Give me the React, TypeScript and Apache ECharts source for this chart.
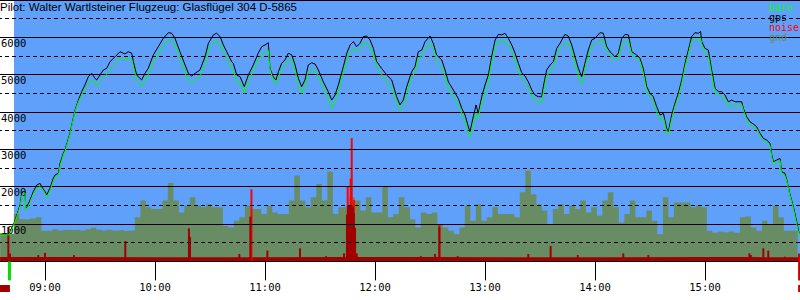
import React, { useEffect, useRef } from "react";
import * as echarts from "echarts";

// ---- data (times are minutes after midnight) ----
const flightTimes = [
  515.5, 520.4, 521.5, 522.7, 524.6, 526.4, 527.3, 528.2, 529.1, 529.5,
  530.0, 531.8, 533.6, 535.5, 537.3, 538.2, 540.0, 540.9, 542.7, 544.5,
  545.5, 547.3, 548.2, 550.0, 550.9, 553.6, 556.4, 558.2, 560.0, 561.8,
  563.6, 565.5, 567.3, 568.2, 570.0, 571.8, 573.6, 575.5, 578.2, 580.9,
  583.6, 585.4, 587.3, 588.2, 590.0, 592.7, 594.5, 596.3, 599.1, 601.8,
  604.5, 607.3, 609.1, 610.9, 613.6, 616.4, 618.2, 620.0, 621.8, 624.5,
  627.3, 629.1, 631.8, 633.6, 635.5, 637.3, 639.1, 641.8, 642.7, 644.6,
  646.4, 648.7, 650.9, 653.6, 656.3, 658.2, 660.0, 661.8, 662.7, 664.5,
  666.0, 667.3, 669.1, 670.9, 672.7, 674.6, 676.4, 678.2, 680.0, 681.8,
  683.6, 685.5, 687.3, 689.1, 691.8, 694.5, 696.4, 698.2, 700.0, 702.7,
  704.6, 706.4, 708.2, 710.0, 711.8, 713.6, 715.5, 717.3, 719.1, 720.9,
  723.6, 726.4, 729.1, 731.8, 733.6, 735.4, 737.3, 740.0, 741.8, 743.6,
  745.5, 747.3, 750.0, 751.8, 753.6, 756.4, 758.2, 760.0, 762.7, 765.4,
  767.3, 769.1, 770.9, 771.8, 773.6, 775.1, 776.3, 778.2, 780.0, 781.8,
  783.6, 785.5, 787.3, 789.1, 790.9, 792.7, 794.6, 796.4, 798.2, 800.0,
  801.8, 803.6, 805.5, 807.3, 809.1, 810.9, 811.8, 813.6, 815.5, 817.3,
  819.1, 820.9, 823.6, 825.4, 827.3, 829.1, 830.9, 832.7, 834.5, 836.3,
  838.2, 840.0, 842.7, 844.5, 846.4, 848.2, 850.9, 852.7, 854.6, 856.4,
  858.2, 860.0, 862.7, 864.5, 866.3, 868.2, 870.0, 871.8, 873.6, 875.5,
  877.3, 879.1, 880.0, 881.8, 883.6, 885.4, 887.3, 889.1, 890.9, 892.7,
  894.5, 896.3, 897.6, 898.2, 900.0, 901.8, 903.6, 905.5, 907.3, 909.1,
  910.9, 912.7, 914.6, 916.4, 920.0, 920.9, 922.7, 924.5, 926.3, 928.2,
  930.0, 931.8, 933.6, 935.5, 936.4, 937.3, 939.1, 940.9, 941.8, 943.6,
  944.6, 946.4, 948.2, 950.0, 951.3,
];

const gpsAltitude = [
  730, 730, 850, 980, 1240, 1510, 1825, 1870, 1870, 1430,
  1450, 1640, 1870, 2045, 2090, 2000, 1870, 1780, 1960, 2225,
  2315, 2360, 2630, 2895, 2985, 3430, 4055, 4320, 4545, 4725,
  4945, 5035, 4900, 4860, 4990, 5125, 5170, 5350, 5480, 5615,
  5555, 5615, 5575, 5350, 4990, 4860, 5035, 5170, 5530, 5750,
  5975, 6125, 6110, 5975, 5615, 5260, 5035, 4965, 5035, 5125,
  5480, 5840, 6065, 6110, 6020, 5795, 5615, 5350, 5305, 4990,
  4945, 4680, 4990, 5260, 5575, 5750, 5795, 5855, 5170, 4945,
  4860, 5080, 5305, 5395, 5575, 5530, 5260, 4900, 4680, 4860,
  5260, 5320, 5285, 5125, 4810, 4545, 4320, 4455, 4725, 5210,
  5575, 5795, 5885, 5750, 5840, 6020, 6035, 5930, 5705, 5350,
  5170, 4990, 4860, 4410, 4190, 4320, 4680, 5080, 5215, 5615,
  5660, 5885, 6035, 5840, 5530, 5395, 5125, 4810, 4590, 4365,
  4100, 3920, 3605, 3475, 3875, 4190, 3965, 4410, 4725, 4990,
  5480, 5930, 6080, 6065, 6110, 5975, 5795, 5575, 5305, 5055,
  4965, 4810, 4590, 4455, 4410, 4410, 4680, 5125, 5260, 5350,
  5705, 5840, 6080, 6035, 5795, 5480, 5170, 4945, 5305, 5660,
  5930, 5975, 6125, 6110, 5750, 5615, 5480, 5575, 5975, 6080,
  6065, 5615, 5530, 5440, 5170, 4680, 4500, 4410, 4145, 3920,
  3965, 3565, 3475, 3920, 4235, 4500, 4860, 5305, 5660, 6020,
  6125, 6110, 6155, 5885, 5705, 5660, 5125, 4635, 4545, 4545,
  4455, 4275, 4320, 4275, 4275, 4100, 3875, 3740, 3680, 3605,
  3430, 3295, 3250, 3160, 2850, 2670, 2715, 2760, 2400, 2360,
  2180, 1780, 1465, 1065, 750,
];

const baroAltitude = [
  710, 710, 820, 950, 1200, 1480, 1750, 1820, 1830, 1400,
  1375, 1580, 1800, 1960, 2000, 1960, 1820, 1700, 1880, 2150,
  2250, 2300, 2550, 2850, 2950, 3400, 4030, 4280, 4450, 4600,
  4750, 4850, 4800, 4700, 4830, 4950, 5000, 5150, 5300, 5450,
  5400, 5450, 5400, 5200, 4850, 4700, 4850, 5000, 5350, 5550,
  5800, 5930, 5930, 5800, 5450, 5050, 4850, 4800, 4850, 4950,
  5300, 5650, 5850, 5900, 5850, 5600, 5450, 5150, 5100, 4800,
  4800, 4500, 4850, 5100, 5400, 5550, 5600, 5650, 5150, 4850,
  4750, 4950, 5150, 5250, 5400, 5400, 5100, 4750, 4500, 4700,
  5080, 5150, 5100, 4950, 4650, 4350, 4100, 4300, 4550, 5050,
  5400, 5600, 5700, 5600, 5680, 5850, 5850, 5750, 5500, 5200,
  5000, 4800, 4650, 4250, 4050, 4150, 4500, 4950, 5050, 5450,
  5500, 5700, 5850, 5700, 5350, 5200, 4950, 4650, 4400, 4200,
  3950, 3750, 3450, 3340, 3700, 3950, 3850, 4250, 4550, 4800,
  5300, 5750, 5880, 5900, 5900, 5800, 5600, 5400, 5100, 4900,
  4800, 4650, 4450, 4300, 4250, 4250, 4500, 4950, 5100, 5200,
  5550, 5700, 5850, 5850, 5650, 5300, 5000, 4750, 5150, 5500,
  5750, 5800, 5930, 5930, 5650, 5500, 5400, 5450, 5800, 5900,
  5900, 5550, 5450, 5350, 5050, 4550, 4400, 4300, 4000, 3800,
  3850, 3450, 3400, 3800, 4150, 4400, 4750, 5200, 5550, 5900,
  5950, 5950, 5980, 5800, 5600, 5500, 5000, 4500, 4450, 4400,
  4350, 4150, 4200, 4150, 4200, 4050, 3800, 3650, 3600, 3550,
  3350, 3220, 3180, 3100, 2800, 2620, 2650, 2700, 2350, 2300,
  2150, 1750, 1420, 1000, 700,
];

// ground elevation, one value every 3 minutes from 08:35.5
const gndStart = 515.5;
const gndStep = 3;
const gndAltitude = [
  740, 740, 740, 1270, 1130, 1130, 1150, 1180, 820, 820,
  860, 830, 850, 840, 850, 830, 860, 900, 850, 830,
  850, 830, 840, 820, 830, 1180, 1630, 1450, 1400, 1400,
  1630, 2100, 1630, 1310, 1500, 1720, 1500, 1450, 1530, 1450,
  1450, 950, 910, 1090, 1180, 1490, 1400, 1400, 1270, 1490,
  1310, 1270, 1270, 1630, 2300, 1630, 1450, 1720, 2070, 1630,
  2400, 1270, 1450, 1450, 1720, 1630, 1360, 1720, 1310, 1310,
  2000, 1180, 1270, 1720, 1450, 1130, 910, 1310, 1270, 1310,
  1000, 910, 820, 730, 910, 1500, 1090, 1530, 1090, 1180,
  1450, 1270, 1270, 1270, 1180, 1850, 2430, 1800, 1530, 1360,
  1000, 1400, 1530, 1270, 1490, 1400, 1630, 1310, 1450, 1220,
  1630, 1850, 1450, 1040, 1270, 1630, 1180, 1180, 1360, 1090,
  730, 1720, 1180, 1580, 1580, 1580, 1450, 1500, 1450, 820,
  770, 800, 780, 800, 770, 1180, 1200, 910, 820, 1090,
  1000, 1490, 1180, 820, 820, 820,
];

const noiseTimes = [
  520.0, 520.9, 536.3, 540.0, 555.8, 583.8, 618.5, 619.1, 646.0, 652.0,
  661.3, 679.1, 693.3, 703.1, 704.7, 705.3, 705.8, 706.4, 706.9, 707.4,
  708.0, 708.5, 709.1, 710.0, 745.0, 752.7, 755.1, 765.1, 803.6, 815.8,
  830.6, 855.4, 869.1, 924.2, 925.0, 931.8, 934.5, 943.6,
];
const noiseValues = [
  930, 210, 170, 230, 170, 545, 885, 660, 200, 1200,
  290, 350, 140, 215, 1250, 1500, 1500, 1500, 1500, 1500,
  1450, 1300, 900, 215, 140, 200, 930, 140, 200, 410,
  170, 215, 170, 215, 170, 350, 290, 125,
];
const noisePeakTimes = [652.6, 705.1, 706.7, 707.3, 708.5, 755.1];
const noisePeakValues = [1930, 2000, 2220, 3300, 1640, 1000];
const noiseFloorTimes = [515.5, 600, 700, 800, 900, 951.8];
const noiseFloorValues = [115, 110, 115, 110, 115, 110];

const blueStart = 523.1;
const takeoffTime = 520.6;
const landingTime = 951.3;

const axisMin = 480;
const axisMax = 951.8;

const title = "Pilot: Walter Wartlsteiner Flugzeug: Glasflügel 304 D-5865";
const legendNames = ["baro", "gps", "noise", "gnd"];
const legendColors = ["#00ff00", "#000000", "#ff0000", "#6b8a62"];

const BLUE = "#5fa0fa";
const GND = "#688c64";
const DARKRED = "#a00000";
const MONO = '"DejaVu Sans Mono", monospace';

const hhmm = (v: number) => {
  const h = Math.floor(v / 60);
  const m = Math.round(v - h * 60);
  return String(h).padStart(2, "0") + ":" + String(m).padStart(2, "0");
};

export default function App() {
  const ref = useRef<HTMLDivElement>(null);
  useEffect(() => {
    document.body.style.margin = "0";
    if (!ref.current) return;
    const chart = echarts.init(ref.current, undefined, { renderer: "svg" });
    const pair = (t: number[], v: number[]) => t.map((x, i) => [x, v[i]]);
    const gndData = gndAltitude.map((v, i) => [gndStart + i * gndStep, v]);

    const xBase = {
      type: "value" as const,
      gridIndex: 0,
      min: axisMin,
      max: axisMax,
      axisLine: { show: false },
      splitLine: { show: false },
    };

    chart.setOption({
      animation: false,
      backgroundColor: "#ffffff",
      grid: {
        left: -65,
        right: 0,
        top: 0,
        height: 261.4,
        containLabel: false,
        outerBoundsMode: "none",
      },
      xAxis: [
        {
          ...xBase,
          interval: 60,
          axisTick: { show: true, length: 19, lineStyle: { color: "#000", width: 1 } },
          axisLabel: {
            show: true,
            formatter: (v: number) => hhmm(v),
            color: "#000",
            fontFamily: MONO,
            fontSize: 10.5,
            margin: 20,
            showMinLabel: false,
            showMaxLabel: false,
            hideOverlap: false,
          },
        },
        {
          ...xBase,
          interval: 30,
          axisTick: { show: true, length: 12, lineStyle: { color: "#000", width: 1 } },
          axisLabel: { show: false },
        },
        {
          ...xBase,
          interval: 5,
          axisTick: { show: true, length: 6, lineStyle: { color: "#000", width: 1 } },
          axisLabel: { show: false },
        },
      ],
      yAxis: {
        type: "value",
        min: 0,
        max: 7000,
        interval: 1000,
        offset: -65,
        z: 3,
        axisLine: { show: false },
        axisTick: { show: false },
        axisLabel: {
          inside: true,
          align: "left",
          verticalAlign: "top",
          margin: 1,
          showMinLabel: false,
          showMaxLabel: false,
          formatter: (v: number) => String(v),
          color: "#000",
          fontFamily: MONO,
          fontSize: 10.5,
        },
        splitLine: { show: true, lineStyle: { color: "#000", width: 1 } },
        minorTick: { show: false, splitNumber: 2 },
        minorSplitLine: { show: true, lineStyle: { color: "#000", width: 1, type: [4, 3] } },
      },
      series: [
        {
          name: "bg",
          type: "line",
          z: 1,
          data: [[blueStart, 0]],
          symbol: "none",
          lineStyle: { opacity: 0 },
          silent: true,
          markArea: {
            silent: true,
            itemStyle: { color: BLUE, opacity: 1 },
            data: [[{ xAxis: blueStart }, { xAxis: axisMax }]],
          },
        },
        {
          name: "gnd",
          type: "line",
          z: 2,
          step: "middle",
          symbol: "none",
          lineStyle: { width: 0, color: GND },
          areaStyle: { color: GND, opacity: 1 },
          data: gndData,
        },
        {
          name: "noiseFloor",
          type: "line",
          z: 2,
          step: "middle",
          symbol: "none",
          lineStyle: { width: 0, color: DARKRED },
          areaStyle: { color: DARKRED, opacity: 1 },
          data: pair(noiseFloorTimes, noiseFloorValues),
        },
        {
          name: "noisePeak",
          type: "bar",
          z: 2,
          barWidth: 2,
          barGap: "-100%",
          itemStyle: { color: "#ff0000" },
          data: pair(noisePeakTimes, noisePeakValues),
        },
        {
          name: "noise",
          type: "bar",
          z: 2,
          barWidth: 2,
          barGap: "-100%",
          itemStyle: { color: DARKRED },
          data: pair(noiseTimes, noiseValues),
        },
        {
          name: "gps",
          type: "line",
          z: 4,
          symbol: "none",
          lineStyle: { color: "#000000", width: 1 },
          data: pair(flightTimes, gpsAltitude),
        },
        {
          name: "baro",
          type: "line",
          z: 4,
          symbol: "none",
          lineStyle: { color: "#00ff00", width: 1 },
          data: pair(flightTimes, baroAltitude),
        },
      ],
    });

    const tx = chart.convertToPixel({ xAxisIndex: 0 }, takeoffTime) as number;
    const lx = chart.convertToPixel({ xAxisIndex: 0 }, landingTime) as number;
    const y0 = chart.convertToPixel({ yAxisIndex: 0 }, 0) as number;

    chart.setOption({
      graphic: [
        {
          type: "text",
          left: 0,
          top: 1,
          z: 10,
          style: { text: title, font: '11.5px "Liberation Sans", Arial, sans-serif', fill: "#000" },
        },
        ...legendNames.map((n, i) => ({
          type: "text",
          x: 769,
          y: 2 + i * 10,
          z: 10,
          style: { text: n, font: "10px " + MONO, fill: legendColors[i], verticalAlign: "top" },
        })),
        {
          type: "rect",
          z: 10,
          shape: { x: tx - 1.5, y: y0, width: 3, height: 19 },
          style: { fill: "#00dd00" },
        },
        {
          type: "rect",
          z: 10,
          shape: { x: lx - 1, y: y0 - 8, width: 2, height: 27 },
          style: { fill: "#cc0000" },
        },
        {
          type: "rect",
          z: 10,
          shape: { x: 0, y: 285, width: tx + 0.5, height: 7 },
          style: { fill: DARKRED },
        },
        {
          type: "rect",
          z: 10,
          shape: { x: lx - 1, y: 285, width: 800 - lx + 1, height: 7 },
          style: { fill: "#cc0000" },
        },
      ],
    });

    return () => chart.dispose();
  }, []);
  return <div ref={ref} style={{ width: 800, height: 300 }} />;
}
